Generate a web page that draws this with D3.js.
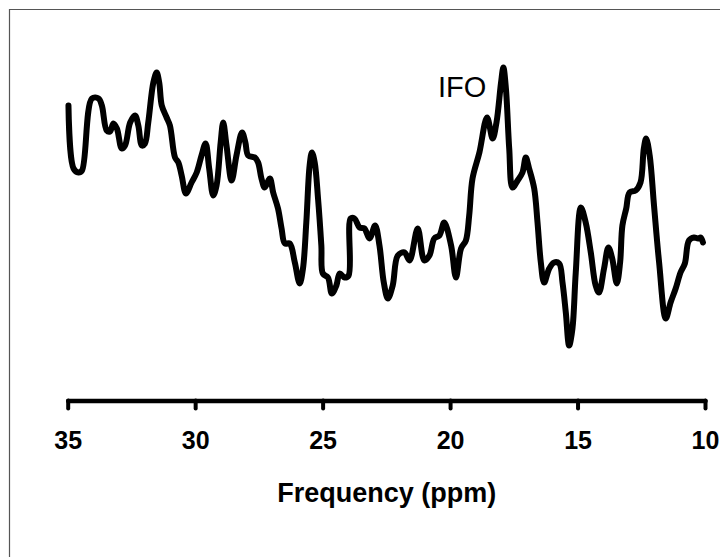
<!DOCTYPE html>
<html>
<head>
<meta charset="utf-8">
<script src="https://cdn.jsdelivr.net/npm/d3@7"></script>
<style>
  html, body { margin: 0; padding: 0; background: #fff; }
  svg { display: block; }
</style>
</head>
<body>
<svg id="chart" width="720" height="557"></svg>
<script>
// Chemical shift (ppm) of each sample along the spectrum
const ppm = [
  34.97, 34.77, 34.58, 34.44, 34.05, 33.79, 33.66, 33.47, 33.34, 33.21, 33.07, 32.88, 32.75,
  32.55, 32.36, 32.23, 32.09, 31.97, 31.84, 31.64, 31.51, 31.41, 31.31, 31.12, 30.99, 30.79,
  30.66, 30.53, 30.36, 30.14, 29.94, 29.75, 29.59, 29.45, 29.29, 29.16, 29.00, 28.90, 28.77,
  28.57, 28.38, 28.16, 28.03, 27.92, 27.66, 27.53, 27.40, 27.27, 27.07, 26.94, 26.75, 26.61,
  26.48, 26.29, 26.09, 25.90, 25.77, 25.64, 25.51, 25.42, 25.31, 25.18, 25.05, 24.99, 24.79,
  24.64, 24.46, 24.33, 24.14, 23.98, 23.90, 23.75, 23.55, 23.36, 23.16, 22.94, 22.77, 22.60,
  22.44, 22.25, 22.05, 21.79, 21.59, 21.27, 21.01, 20.81, 20.62, 20.42, 20.23, 19.96, 19.77,
  19.57, 19.38, 19.25, 19.12, 18.85, 18.55, 18.33, 18.18, 18.00, 17.91, 17.81, 17.68, 17.55,
  17.35, 17.16, 17.03, 16.90, 16.70, 16.57, 16.44, 16.31, 16.11, 15.92, 15.72, 15.59, 15.46,
  15.33, 15.20, 15.07, 14.87, 14.68, 14.48, 14.29, 14.16, 13.96, 13.79, 13.64, 13.46, 13.33,
  13.24, 13.09, 12.96, 12.72, 12.53, 12.40, 12.31, 12.17, 12.00, 11.80, 11.54, 11.35, 11.15,
  10.96, 10.79, 10.63, 10.43, 10.27, 10.17, 10.08
];

// Signal intensity (arbitrary units) at each ppm value
const intensity = [
  295, 232, 228, 230, 302, 302, 295, 270, 269, 277, 272, 252, 255,
  278, 285, 275, 255, 257, 278, 318, 328, 318, 295, 283, 275, 243,
  238, 225, 207, 218, 228, 245, 257, 232, 205, 215, 258, 278, 255,
  220, 245, 268, 258, 245, 243, 238, 222, 213, 222, 208, 192, 172,
  157, 157, 138, 117, 132, 178, 235, 248, 238, 202, 155, 127, 123,
  107, 115, 127, 123, 125, 182, 182, 173, 172, 162, 175, 155, 118,
  102, 115, 145, 148, 140, 172, 140, 145, 162, 165, 178, 155, 123,
  152, 160, 185, 222, 248, 283, 262, 278, 318, 333, 312, 252, 213,
  220, 228, 243, 232, 212, 178, 138, 118, 132, 138, 137, 118, 88,
  55, 72, 128, 193, 178, 148, 115, 108, 132, 153, 142, 117, 138,
  175, 192, 208, 210, 218, 252, 262, 245, 195, 138, 82, 98, 112,
  128, 137, 160, 163, 162, 163, 158
];

const tickValues = [35, 30, 25, 20, 15, 10];
const xTitle = "Frequency (ppm)";
const peakLabel = "IFO";
const peakPpm = 17.91;

const svg = d3.select("#chart");
const W = 720, H = 557;

// Thin frame along the top and left edges
svg.append("path")
  .attr("d", `M9.5,${H} V9.5 H${W}`)
  .attr("fill", "none")
  .attr("stroke", "#555")
  .attr("stroke-width", 1.2);

// Reversed ppm axis, as is usual for NMR spectra
const x = d3.scaleLinear().domain([35, 10]).range([67.7, 705]);
const y = d3.scaleLinear().domain([0, 400]).range([400.5, 0.5]);

const font = "'Liberation Sans', Arial, Helvetica, sans-serif";

// Spectrum trace
const line = d3.line()
  .x((d, i) => x(ppm[i]))
  .y((d, i) => y(intensity[i]))
  .curve(d3.curveCatmullRom.alpha(0.5));

svg.append("path")
  .datum(ppm)
  .attr("d", line)
  .attr("fill", "none")
  .attr("stroke", "#000")
  .attr("stroke-width", 6)
  .attr("stroke-linejoin", "round")
  .attr("stroke-linecap", "round");

// Bottom axis
const axis = d3.axisBottom(x)
  .tickValues(tickValues)
  .tickSize(8)
  .tickPadding(23)
  .tickSizeOuter(0)
  .tickFormat(d3.format("d"));

const gx = svg.append("g")
  .attr("transform", `translate(0,${y(0)})`)
  .call(axis);

gx.select(".domain")
  .attr("stroke", "#000")
  .attr("stroke-width", 4.5)
  .attr("stroke-linecap", "round");

gx.selectAll(".tick line")
  .attr("stroke", "#000")
  .attr("stroke-width", 4)
  .attr("stroke-linecap", "round");

gx.selectAll(".tick text")
  .attr("fill", "#000")
  .attr("font-family", font)
  .attr("font-weight", "bold")
  .attr("font-size", 25);

// Axis title
svg.append("text")
  .attr("x", 386.7)
  .attr("y", 502)
  .attr("text-anchor", "middle")
  .attr("font-family", font)
  .attr("font-weight", "bold")
  .attr("font-size", 27)
  .attr("fill", "#000")
  .text(xTitle);

// Peak annotation
svg.append("text")
  .attr("x", x(peakPpm) - 17)
  .attr("y", 97)
  .attr("text-anchor", "end")
  .attr("font-family", font)
  .attr("font-size", 29)
  .attr("fill", "#000")
  .text(peakLabel);
</script>
</body>
</html>
